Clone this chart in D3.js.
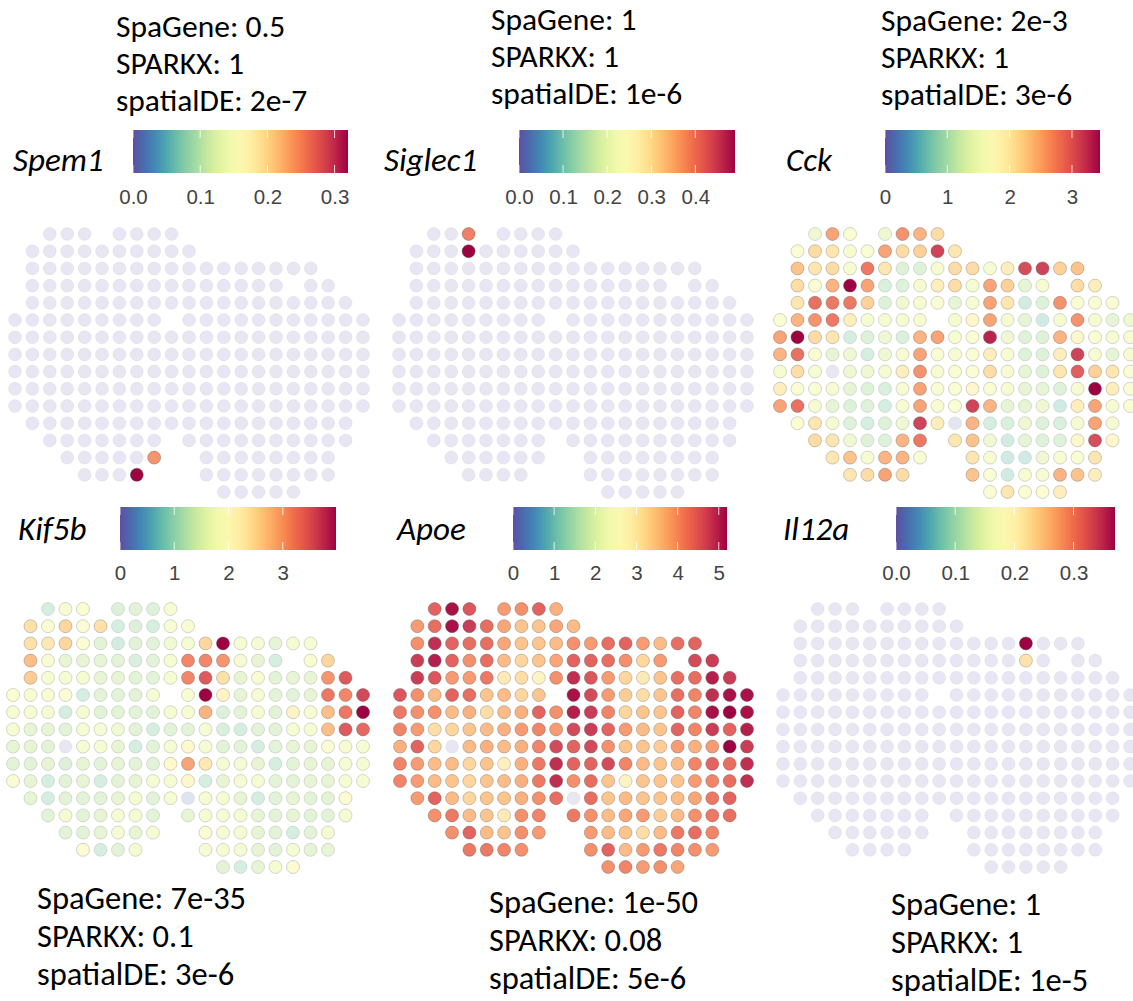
<!DOCTYPE html>
<html>
<head>
<meta charset="utf-8">
<script src="https://cdn.jsdelivr.net/npm/d3@7"></script>
<style>
  body { margin: 0; background: #fff; }
  svg { display: block; }
  .stat { font-family: Carlito, Calibri, Lato, sans-serif; font-size: 31.5px; fill: #000; }
  .stat.bottom { font-size: 32.5px; }
  .gene { font-family: Carlito, Calibri, Lato, sans-serif; font-size: 33px; font-style: italic; fill: #000; }
  .cbtick text { font-family: "Liberation Sans", Arial, sans-serif; font-size: 20.5px; fill: #444; }
</style>
</head>
<body>
<svg id="chart" width="1133" height="1001"></svg>
<script>
// spot grid of the tissue section (array row, array columns per row)
const spotRows = [0, 1, 2, 3, 4, 5, 6, 7, 8, 9, 10, 11, 12, 13, 14, 15];
const spotCols = [
    [2, 3, 4, 6, 7, 8, 9],
    [1, 2, 3, 4, 5, 6, 7, 8, 9, 10],
    [1, 2, 3, 4, 5, 6, 7, 8, 9, 10, 11, 12, 13, 14, 15, 16, 17],
    [1, 2, 3, 4, 5, 6, 7, 8, 9, 10, 11, 12, 13, 14, 15, 17, 18],
    [1, 2, 3, 4, 5, 6, 7, 8, 9, 10, 11, 12, 13, 14, 15, 16, 17, 18, 19],
    [0, 1, 2, 3, 4, 5, 6, 7, 8, 10, 11, 12, 13, 14, 15, 16, 17, 18, 19, 20],
    [0, 1, 2, 3, 4, 5, 6, 7, 8, 9, 10, 11, 12, 13, 14, 15, 16, 17, 18, 19, 20],
    [0, 1, 2, 3, 4, 5, 6, 7, 8, 9, 10, 11, 12, 13, 14, 15, 16, 17, 18, 19, 20],
    [0, 1, 2, 3, 4, 5, 6, 7, 8, 9, 10, 11, 12, 13, 14, 15, 16, 17, 18, 19, 20],
    [0, 1, 2, 3, 4, 5, 6, 7, 8, 9, 10, 11, 12, 13, 14, 15, 16, 17, 18, 19, 20],
    [0, 1, 2, 3, 4, 5, 6, 7, 8, 9, 10, 11, 12, 13, 14, 15, 16, 17, 18, 19, 20],
    [1, 2, 3, 4, 5, 6, 7, 8, 9, 10, 11, 12, 13, 14, 15, 16, 17, 18, 19],
    [2, 3, 4, 5, 6, 7, 8, 10, 11, 12, 13, 14, 15, 16, 17, 18, 19],
    [3, 4, 5, 6, 7, 8, 11, 12, 13, 14, 15, 16, 17, 18],
    [4, 5, 6, 7, 11, 12, 13, 14, 15, 16, 17, 18],
    [12, 13, 14, 15, 16]
];

const geneNames = ["Spem1", "Siglec1", "Cck", "Kif5b", "Apoe", "Il12a"];
const spaGeneP = ["0.5", "1", "2e-3", "7e-35", "1e-50", "1"];
const sparkxP = ["1", "1", "1", "0.1", "0.08", "1"];
const spatialDEP = ["2e-7", "1e-6", "3e-6", "3e-6", "5e-6", "1e-5"];
const colorbarTicks = [
    [0, 0.1, 0.2, 0.3],
    [0, 0.1, 0.2, 0.3, 0.4],
    [0, 1, 2, 3],
    [0, 1, 2, 3],
    [0, 1, 2, 3, 4, 5],
    [0, 0.1, 0.2, 0.3]
];
const tickFormats = [".1f", ".1f", "d", "d", "d", ".1f"];

// sparse genes: [row, col, value], every other spot is 0
const spem1Spots = [[13, 8, 0.25], [14, 7, 0.32]];
const siglec1Spots = [[0, 4, 0.40], [1, 4, 0.49]];
const il12aSpots = [[2, 14, 0.37], [3, 14, 0.23]];

// dense genes, one list per row following spotCols
const cckValues = [
    [1.35, 2.6, 1.6, 1.35, 2.7, 2.5, 2.2],
    [1.6, 2.2, 2.1, 1.5, 1.6, 2.6, 2.2, 2.3, 3.15, 2.1],
    [2.4, 2.1, 2.2, 1.5, 2.85, 2.1, 1.05, 1.05, 1.5, 2.2, 2.2, 1.5, 2.0, 3.1, 3.15, 2.3, 2.4],
    [2.2, 1.7, 2.5, 3.45, 2.6, 0.95, 1.05, 1.5, 2.0, 2.2, 1.5, 2.6, 2.3, 1.2, 1.5, 2.2, 2.0],
    [2.1, 2.9, 2.85, 2.85, 2.3, 1.05, 1.35, 1.5, 1.6, 1.2, 1.5, 2.6, 2.1, 0.75, 1.05, 2.7, 1.6, 1.6, 1.6],
    [1.6, 2.5, 2.7, 2.85, 2.0, 1.5, 1.5, 1.5, 1.5, 1.5, 1.85, 2.6, 1.5, 1.2, 0.7, 1.5, 2.7, 1.5, 1.2, 1.35],
    [2.6, 3.45, 2.2, 2.1, 0.85, 1.05, 1.35, 0.95, 2.5, 2.6, 1.5, 1.6, 3.3, 1.35, 1.05, 1.05, 2.5, 1.85, 1.6, 1.5, 1.5],
    [2.5, 2.9, 1.7, 1.2, 1.35, 0.85, 1.35, 1.5, 2.6, 1.6, 1.5, 1.6, 2.0, 1.5, 1.05, 1.05, 2.0, 3.15, 1.5, 1.2, 1.5],
    [1.5, 2.2, 1.5, 0, 1.35, 1.35, 1.5, 2.0, 2.7, 1.5, 1.6, 1.6, 2.2, 1.5, 1.2, 1.05, 2.1, 3.0, 2.3, 2.1, 1.6],
    [2.0, 1.6, 1.6, 1.5, 1.2, 1.05, 0.95, 1.5, 2.6, 1.6, 1.6, 1.85, 1.6, 1.5, 1.2, 1.2, 1.05, 1.5, 3.45, 2.0, 1.6],
    [2.6, 2.9, 1.5, 1.2, 1.05, 1.05, 0.85, 1.5, 2.6, 1.5, 1.6, 3.15, 2.5, 1.2, 1.2, 1.35, 0.7, 2.0, 2.6, 1.5, 1.6],
    [1.6, 2.1, 1.5, 1.05, 0.85, 1.05, 1.35, 3.15, 2.0, 0.1, 2.5, 0.85, 0.95, 1.35, 1.05, 0.95, 1.5, 2.6, 1.5],
    [2.2, 2.1, 1.35, 1.05, 1.05, 2.5, 2.85, 2.1, 2.4, 1.35, 0.75, 1.2, 1.05, 1.05, 1.85, 3.1, 1.85],
    [2.1, 2.4, 1.5, 2.5, 2.5, 1.6, 2.1, 1.5, 0.7, 0.7, 1.35, 1.5, 1.6, 2.1],
    [2.1, 2.2, 2.6, 2.2, 2.4, 1.6, 0.7, 1.5, 1.5, 2.5, 2.4, 2.0],
    [1.6, 2.1, 1.7, 1.7, 2.0]
];

const kif5bValues = [
    [1.0, 1.8, 1.9, 1.2, 1.3, 1.2, 1.8],
    [2.5, 1.9, 2.6, 1.9, 2.5, 1.0, 1.2, 1.0, 1.8, 1.8],
    [2.5, 2.4, 2.6, 1.9, 1.3, 0.9, 1.3, 1.3, 1.6, 1.7, 2.6, 3.98, 1.8, 1.7, 1.4, 1.7, 1.7],
    [2.8, 1.8, 1.4, 1.4, 1.4, 1.3, 1.1, 1.3, 1.7, 3.2, 3.2, 3.1, 1.7, 1.4, 1.0, 1.8, 2.6],
    [2.7, 1.8, 1.7, 1.7, 1.4, 1.4, 1.3, 1.3, 1.7, 3.2, 3.5, 2.5, 1.4, 1.8, 1.3, 1.4, 1.4, 3.1, 3.5],
    [1.9, 1.8, 1.8, 1.9, 1.0, 1.3, 1.3, 1.3, 1.7, 1.8, 3.98, 2.2, 1.4, 1.7, 1.3, 1.3, 1.4, 3.3, 3.2, 3.6],
    [1.8, 1.8, 1.7, 1.0, 1.7, 1.3, 1.3, 1.3, 1.3, 1.7, 1.8, 2.9, 1.2, 1.3, 1.7, 1.3, 2.2, 1.8, 2.8, 3.3, 3.98],
    [1.7, 1.4, 1.4, 1.3, 1.7, 1.7, 1.6, 1.3, 1.0, 1.3, 1.3, 1.7, 1.1, 1.0, 1.3, 1.3, 1.7, 1.7, 2.8, 3.5, 3.4],
    [1.4, 1.4, 1.3, 0, 1.7, 1.7, 1.4, 1.0, 1.3, 1.7, 2.1, 1.7, 1.3, 1.3, 1.0, 1.3, 1.4, 1.4, 1.9, 1.8, 1.7],
    [1.3, 1.3, 1.4, 1.2, 1.4, 1.3, 1.4, 1.3, 1.3, 2.1, 3.0, 2.4, 1.7, 1.7, 1.4, 1.0, 1.3, 1.4, 1.4, 1.7, 1.7],
    [1.8, 1.4, 1.0, 1.3, 1.4, 1.0, 1.3, 1.4, 1.7, 1.7, 2.1, 1.0, 1.4, 1.7, 1.7, 1.3, 1.3, 1.4, 1.4, 1.7, 1.7],
    [1.4, 1.0, 1.3, 1.3, 1.3, 1.4, 1.7, 1.3, 1.7, 0.2, 1.7, 1.7, 1.4, 1.0, 1.3, 1.4, 1.3, 1.3, 2.0],
    [1.3, 1.7, 1.3, 1.4, 1.7, 1.7, 1.3, 1.4, 1.7, 1.7, 1.7, 1.4, 1.3, 1.4, 1.3, 1.3, 1.7],
    [1.3, 1.3, 1.4, 1.7, 1.4, 1.7, 2.0, 1.7, 1.7, 1.4, 1.3, 1.0, 1.3, 1.7],
    [2.0, 1.0, 1.3, 1.7, 1.7, 1.7, 1.7, 1.4, 1.3, 1.7, 1.4, 1.4],
    [1.3, 1.0, 1.4, 1.7, 2.0]
];

const apoeValues = [
    [4.5, 5.1, 4.6, 4.0, 4.1, 4.5, 3.8],
    [4.0, 4.4, 5.1, 4.8, 4.4, 3.9, 3.6, 3.6, 3.9, 3.7],
    [4.1, 4.9, 4.5, 4.4, 4.4, 3.9, 3.6, 3.6, 3.7, 4.1, 4.0, 4.4, 4.5, 4.0, 3.7, 4.4, 4.5],
    [4.8, 5.0, 4.5, 4.1, 4.4, 3.7, 3.4, 3.6, 3.9, 4.5, 4.5, 4.4, 4.1, 3.4, 4.0, 4.7, 4.8],
    [4.8, 4.6, 4.0, 4.0, 4.3, 3.1, 3.3, 2.9, 4.1, 4.9, 4.6, 4.0, 3.4, 3.1, 3.6, 4.4, 4.4, 5.0, 4.8],
    [4.6, 4.1, 3.7, 4.5, 4.4, 3.6, 3.7, 3.4, 3.6, 5.1, 4.7, 4.0, 3.5, 3.3, 3.6, 4.4, 4.2, 4.9, 5.1, 5.1],
    [4.3, 4.1, 4.1, 3.7, 3.8, 3.3, 3.7, 3.8, 4.5, 4.1, 5.0, 4.8, 4.2, 3.4, 3.6, 3.6, 4.5, 4.2, 5.1, 5.2, 5.1],
    [4.2, 4.0, 3.3, 3.4, 3.6, 3.7, 3.8, 4.0, 4.2, 4.0, 4.7, 4.8, 4.5, 4.0, 3.7, 3.6, 4.5, 4.2, 4.8, 4.5, 5.0],
    [3.8, 4.5, 3.4, 0, 3.7, 3.8, 3.7, 3.8, 4.2, 4.7, 4.5, 4.7, 4.1, 3.6, 3.6, 3.5, 4.0, 3.8, 4.0, 5.2, 4.8],
    [4.2, 4.0, 3.7, 3.7, 3.4, 3.6, 3.0, 3.8, 4.3, 4.9, 4.5, 4.5, 4.7, 4.2, 3.7, 3.6, 3.7, 4.2, 4.5, 4.4, 4.9],
    [4.2, 4.0, 3.7, 3.6, 3.4, 3.6, 3.7, 3.8, 4.3, 4.9, 4.1, 4.4, 3.6, 2.9, 3.6, 3.6, 3.6, 4.0, 4.2, 4.4, 4.9],
    [4.0, 4.5, 3.7, 3.4, 3.6, 3.6, 3.8, 4.1, 4.4, 0, 4.4, 3.6, 3.7, 3.6, 3.6, 3.7, 3.9, 4.3, 4.5],
    [4.1, 4.3, 3.7, 3.6, 3.1, 4.1, 4.2, 4.3, 4.1, 3.7, 3.9, 4.0, 3.5, 3.7, 4.1, 4.3, 4.4],
    [4.1, 4.5, 3.7, 3.6, 4.1, 4.0, 4.0, 3.7, 3.6, 3.3, 3.7, 4.3, 4.4, 4.2],
    [4.3, 4.3, 4.2, 4.1, 4.1, 4.5, 3.7, 4.0, 4.3, 4.2, 4.1, 4.0],
    [4.1, 4.2, 4.0, 4.1, 3.9]
];

function sparseToRows(list) {
    return spotCols.map((cols, r) => cols.map(c => {
        const hit = list.find(s => s[0] === r && s[1] === c);
        return hit ? hit[2] : 0;
    }));
}

const geneValues = [
    sparseToRows(spem1Spots),
    sparseToRows(siglec1Spots),
    cckValues,
    kif5bValues,
    apoeValues,
    sparseToRows(il12aSpots)
];

// layout of the six panels
const panels = [
    { gx: [15, 363], gy: [234, 492], cb: [133, 348], cby: 130, name: [13, 171], stat: [116, 37], top: true },
    { gx: [399, 747], gy: [234, 492], cb: [519, 735], cby: 130, name: [384, 171], stat: [491, 30], top: true },
    { gx: [780, 1130], gy: [234, 492], cb: [885, 1100], cby: 130, name: [786, 171], stat: [881, 31], top: true },
    { gx: [13, 363], gy: [609, 867], cb: [120, 336], cby: 507, name: [18, 540], stat: [37, 909], top: false },
    { gx: [400, 747], gy: [609, 867], cb: [513, 727], cby: 507, name: [397, 540], stat: [489, 913], top: false },
    { gx: [783, 1130], gy: [609, 867], cb: [896, 1115], cby: 507, name: [783, 540], stat: [891, 915], top: false }
];

const svg = d3.select("#chart");
svg.append("rect").attr("width", 1133).attr("height", 1001).attr("fill", "#fff");
const defs = svg.append("defs");

const spectral = t => d3.interpolateSpectral(1 - t);
const cbHeight = 43;

panels.forEach((p, i) => {
    const values = geneValues[i];
    const maxVal = d3.max(values.flat());

    const x = d3.scaleLinear().domain([0, 20]).range(p.gx);
    const y = d3.scaleLinear().domain([0, 15]).range(p.gy);
    const color = d3.scaleSequential(spectral).domain([0, maxVal]);
    const alpha = d3.scaleLinear().domain([0, maxVal]).range([0.14, 1]);

    const spots = [];
    spotCols.forEach((cols, r) => cols.forEach((c, k) => {
        spots.push({ row: spotRows[r], col: c, v: values[r][k] });
    }));

    const g = svg.append("g");
    g.selectAll("circle")
        .data(spots)
        .join("circle")
        .attr("cx", d => x(d.col))
        .attr("cy", d => y(d.row))
        .attr("r", 6.5)
        .attr("fill", d => color(d.v))
        .attr("fill-opacity", d => alpha(d.v))
        .attr("stroke", "#555")
        .attr("stroke-width", 0.8)
        .attr("stroke-opacity", d => alpha(d.v) * 0.55);

    // colour bar
    const cbx = d3.scaleLinear().domain([0, maxVal]).range(p.cb);
    const gradId = "grad" + i;
    const grad = defs.append("linearGradient").attr("id", gradId);
    grad.selectAll("stop")
        .data(d3.range(0, 1.0001, 0.05))
        .join("stop")
        .attr("offset", d => d)
        .attr("stop-color", d => spectral(d));

    svg.append("rect")
        .attr("x", cbx(0))
        .attr("y", p.cby)
        .attr("width", cbx(maxVal) - cbx(0))
        .attr("height", cbHeight)
        .attr("fill", `url(#${gradId})`);

    const ticks = colorbarTicks[i];
    svg.append("g").selectAll("line")
        .data(ticks.flatMap(t => [[t, p.cby, p.cby + 8], [t, p.cby + cbHeight - 8, p.cby + cbHeight]]))
        .join("line")
        .attr("x1", d => cbx(d[0]))
        .attr("x2", d => cbx(d[0]))
        .attr("y1", d => d[1])
        .attr("y2", d => d[2])
        .attr("stroke", "#fff")
        .attr("stroke-opacity", 0.8)
        .attr("stroke-width", 1);

    const axis = d3.axisBottom(cbx)
        .tickValues(ticks)
        .tickFormat(d3.format(tickFormats[i]))
        .tickSize(0)
        .tickPadding(0);
    const axG = svg.append("g")
        .attr("class", "cbtick")
        .attr("transform", `translate(0, ${p.top ? 189 : 565})`)
        .call(axis);
    axG.select(".domain").remove();

    // gene name
    svg.append("text")
        .attr("class", "gene")
        .attr("x", p.name[0])
        .attr("y", p.name[1])
        .text(geneNames[i]);

    // test statistics
    const lines = [
        "SpaGene: " + spaGeneP[i],
        "SPARKX: " + sparkxP[i],
        "spatialDE: " + spatialDEP[i]
    ];
    const step = p.top ? 37 : 38;
    svg.append("g").selectAll("text")
        .data(lines)
        .join("text")
        .attr("class", p.top ? "stat" : "stat bottom")
        .attr("x", p.stat[0])
        .attr("y", (d, k) => p.stat[1] + k * step)
        .text(d => d);
});
</script>
</body>
</html>
